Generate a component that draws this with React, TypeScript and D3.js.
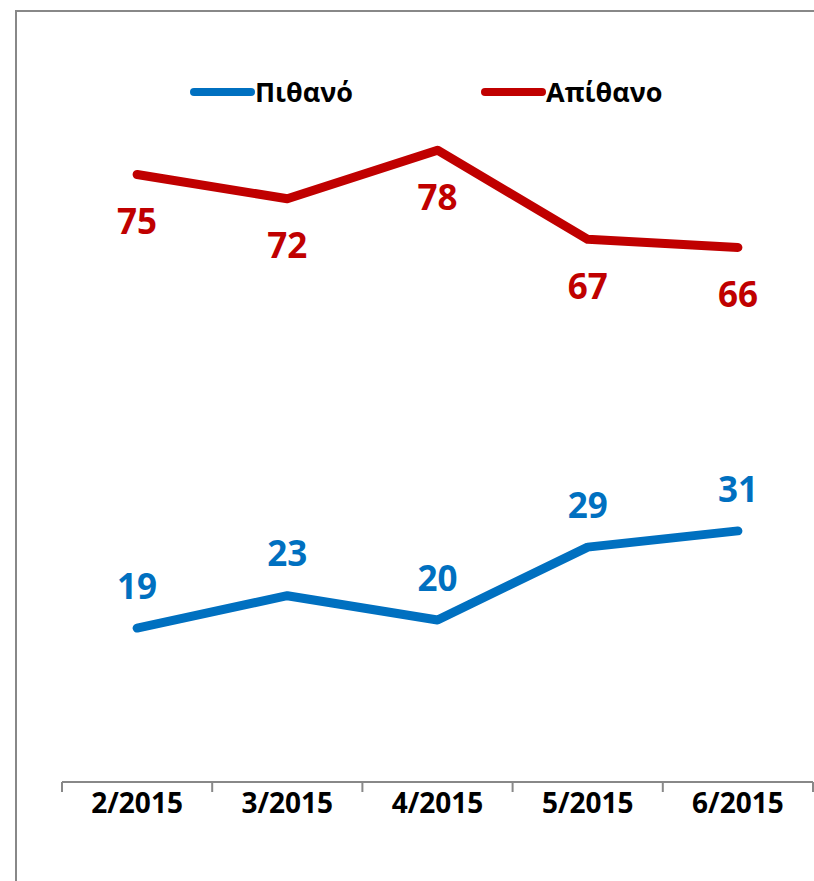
import { line, scaleLinear, scalePoint, select } from 'd3';
import { useEffect, useRef } from 'react';

const months = ['2/2015', '3/2015', '4/2015', '5/2015', '6/2015'];
const likely = [19, 23, 20, 29, 31];
const unlikely = [75, 72, 78, 67, 66];
const seriesNames = ['Πιθανό', 'Απίθανο'];

export default function App() {
  const svgRef = useRef<SVGSVGElement>(null);

  useEffect(() => {
    const width = 814;
    const height = 881;
    const font = '"Open Sans", "DejaVu Sans", sans-serif';
    const blue = '#0070C0';
    const red = '#C00000';

    const svg = select(svgRef.current);
    svg.selectAll('*').remove();
    svg.attr('width', width).attr('height', height);

    // chart frame (runs off the right and bottom edges)
    svg
      .append('rect')
      .attr('x', 16)
      .attr('y', 11)
      .attr('width', 820)
      .attr('height', 900)
      .attr('fill', '#fff')
      .attr('stroke', '#888')
      .attr('stroke-width', 2);

    const plot = { left: 62, right: 813, bottom: 782 };

    // band edges for the ticks, centers for the points
    const x = scalePoint<string>()
      .domain(months)
      .range([plot.left, plot.right])
      .padding(0.5);
    const step = x.step();

    const y = scaleLinear().domain([0, 90]).range([plot.bottom, plot.bottom - 90 * 8.1]);

    // axis
    const axis = svg.append('g');
    axis
      .append('line')
      .attr('x1', plot.left)
      .attr('x2', plot.right)
      .attr('y1', plot.bottom)
      .attr('y2', plot.bottom)
      .attr('stroke', '#888')
      .attr('stroke-width', 2);
    const edges = months.map((m) => x(m)! - step / 2).concat([plot.right]);
    axis
      .selectAll('line.tick')
      .data(edges)
      .enter()
      .append('line')
      .attr('class', 'tick')
      .attr('x1', (d) => d)
      .attr('x2', (d) => d)
      .attr('y1', plot.bottom)
      .attr('y2', plot.bottom + 10)
      .attr('stroke', '#888')
      .attr('stroke-width', 2);
    axis
      .selectAll('text')
      .data(months)
      .enter()
      .append('text')
      .attr('x', (d) => x(d)!)
      .attr('y', 813)
      .attr('text-anchor', 'middle')
      .attr('font-family', font)
      .attr('font-weight', 700)
      .attr('font-size', 28)
      .attr('fill', '#000')
      .text((d) => d);

    const series = [
      { name: seriesNames[0], values: likely, color: blue, dy: -42 },
      { name: seriesNames[1], values: unlikely, color: red, dy: 47 },
    ];

    const path = line<number>()
      .x((_, i) => x(months[i])!)
      .y((d) => y(d));

    series.forEach((s) => {
      svg
        .append('path')
        .attr('d', path(s.values))
        .attr('fill', 'none')
        .attr('stroke', s.color)
        .attr('stroke-width', 9)
        .attr('stroke-linecap', 'round')
        .attr('stroke-linejoin', 'round');

      svg
        .append('g')
        .selectAll('text')
        .data(s.values)
        .enter()
        .append('text')
        .attr('x', (_, i) => x(months[i])!)
        .attr('y', (d) => y(d) + s.dy)
        .attr('dy', '0.36em')
        .attr('text-anchor', 'middle')
        .attr('font-family', font)
        .attr('font-weight', 700)
        .attr('font-size', 35)
        .attr('fill', s.color)
        .text((d) => d);
    });

    // legend
    const legendX = [194, 485];
    series.forEach((s, i) => {
      const g = svg.append('g').attr('transform', `translate(${legendX[i]},92)`);
      g.append('line')
        .attr('x1', 0)
        .attr('x2', 57)
        .attr('stroke', s.color)
        .attr('stroke-width', 8)
        .attr('stroke-linecap', 'round');
      g.append('text')
        .attr('x', 61)
        .attr('y', 0)
        .attr('dy', '0.36em')
        .attr('font-family', font)
        .attr('font-weight', 700)
        .attr('font-size', 27)
        .attr('fill', '#000')
        .text(s.name);
    });
  }, []);

  return (
    <div>
      <svg ref={svgRef} style={{ position: 'absolute', left: 0, top: 0 }}></svg>
    </div>
  );
}
